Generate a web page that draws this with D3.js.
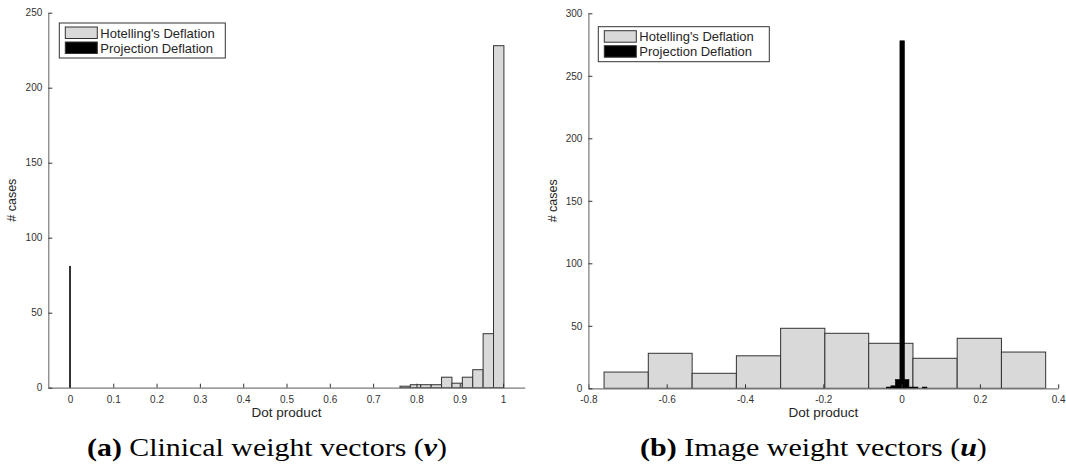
<!DOCTYPE html>
<html lang="en">
<head>
    <meta charset="UTF-8">
    <title>Dot product histograms</title>
    <style>
        body { margin: 0; background: #fff; }
        svg { display: block; }
        .tick text { font-family: "Liberation Sans", Arial, sans-serif; font-size: 10px; fill: #333; }
        .lbl { font-family: "Liberation Sans", Arial, sans-serif; fill: #262626; }
        .cap { font-family: "Liberation Serif", "Times New Roman", serif; fill: #000; }
    </style>
</head>
<body>
    <svg id="chart" width="1066" height="468"></svg>

    <script src="https://d3js.org/d3.v7.min.js"></script>
    <script>
        // panel (a) : clinical weight vectors
        var clinHotEdges  = [0.762, 0.786, 0.810, 0.834, 0.858, 0.882, 0.906, 0.930, 0.954, 0.978, 1.002];
        var clinHotCounts = [1, 2, 2, 2, 7, 3, 7, 12, 36, 228];
        var clinProjEdges  = [-0.001, 0.001];
        var clinProjCounts = [81];
        var clinXTicks = [0, 0.1, 0.2, 0.3, 0.4, 0.5, 0.6, 0.7, 0.8, 0.9, 1];
        var clinYTicks = [0, 50, 100, 150, 200, 250];

        // panel (b) : image weight vectors
        var imgHotEdges  = [-0.760, -0.647, -0.535, -0.422, -0.309, -0.196, -0.084, 0.029, 0.142, 0.255, 0.368];
        var imgHotCounts = [13, 28, 12, 26, 48, 44, 36, 24, 40, 29];
        var imgProjEdges  = [-0.0388, -0.0273, -0.0158, -0.0043, 0.0072, 0.0187, 0.0302, 0.0417, 0.0532, 0.0647, 0.0762];
        var imgProjCounts = [1, 2, 7, 278, 7, 1, 1, 0, 1, 0];
        var imgXTicks = [-0.8, -0.6, -0.4, -0.2, 0, 0.2, 0.4];
        var imgYTicks = [0, 50, 100, 150, 200, 250, 300];

        var legendNames = ["Hotelling's Deflation", "Projection Deflation"];
        var hotFill = "#d9d9d9", projFill = "#000";

        var svg = d3.select("#chart");

        function bins(edges, counts) {
            return counts.map(function(c, i) { return { x0: edges[i], x1: edges[i + 1], n: c }; });
        }

        function panel(p) {
            var x = d3.scaleLinear().domain(p.xDom).range(p.xRange);
            var y = d3.scaleLinear().domain(p.yDom).range(p.yRange);
            var g = svg.append("g");

            // gray histogram first, black on top
            g.selectAll("rect.hot").data(bins(p.hotEdges, p.hotCounts)).enter().append("rect")
                .attr("class", "hot")
                .attr("x", function(d) { return x(d.x0); })
                .attr("width", function(d) { return x(d.x1) - x(d.x0); })
                .attr("y", function(d) { return y(d.n); })
                .attr("height", function(d) { return y(0) - y(d.n); })
                .attr("fill", hotFill).attr("stroke", "#333").attr("stroke-width", 1);

            g.selectAll("rect.proj").data(bins(p.projEdges, p.projCounts).filter(function(d) { return d.n > 0; }))
                .enter().append("rect")
                .attr("class", "proj")
                .attr("x", function(d) { return x(d.x0); })
                .attr("width", function(d) { return Math.max(1, x(d.x1) - x(d.x0)); })
                .attr("y", function(d) { return y(d.n); })
                .attr("height", function(d) { return y(0) - y(d.n); })
                .attr("fill", projFill).attr("stroke", "#000").attr("stroke-width", 0.6);

            // axes, ticks pointing inwards like matlab
            var fmt = function(d) { return String(d); };
            var xa = g.append("g").attr("transform", "translate(0," + y(0) + ")")
                .call(d3.axisBottom(x).tickValues(p.xTicks).tickFormat(fmt).tickSizeInner(-4).tickSizeOuter(0).tickPadding(8));
            var ya = g.append("g").attr("transform", "translate(" + x(p.xDom[0]) + ",0)")
                .call(d3.axisLeft(y).tickValues(p.yTicks).tickFormat(fmt).tickSizeInner(-4).tickSizeOuter(0).tickPadding(6));
            [xa, ya].forEach(function(a) {
                a.select(".domain").attr("stroke", "#7a7a7a").attr("stroke-width", 1.2);
                a.selectAll(".tick line").attr("stroke", "#333");
                a.attr("font-family", null).attr("font-size", null);
            });

            g.append("text").attr("class", "lbl")
                .attr("x", (p.xRange[0] + p.xRange[1]) / 2).attr("y", 417)
                .attr("text-anchor", "middle").attr("font-size", 13.5).text("Dot product");
            g.append("text").attr("class", "lbl")
                .attr("transform", "translate(" + p.yLabelX + "," + ((p.yRange[0] + p.yRange[1]) / 2) + ") rotate(-90)")
                .attr("text-anchor", "middle").attr("font-size", 12.5).text("# cases");

            // legend
            var lg = g.append("g").attr("transform", "translate(" + p.legend[0] + "," + p.legend[1] + ")");
            lg.append("rect").attr("width", p.legendW).attr("height", 35)
                .attr("fill", "#fff").attr("stroke", "#333").attr("stroke-width", 1);
            legendNames.forEach(function(name, i) {
                lg.append("rect").attr("x", 6).attr("y", 4 + i * 15).attr("width", 32).attr("height", 11.5)
                    .attr("fill", i === 0 ? hotFill : projFill).attr("stroke", "#333");
                lg.append("text").attr("class", "lbl").attr("x", 41).attr("y", 14.5 + i * 15)
                    .attr("font-size", 13).attr("fill", "#000").text(name);
            });

            // caption, stretched to the width of the latex caption
            var cap = svg.append("text").attr("class", "cap").attr("font-size", 26).attr("y", 456);
            cap.append("tspan").attr("font-weight", "bold").text("(" + p.letter + ")");
            cap.append("tspan").text(" " + p.caption + " (");
            cap.append("tspan").attr("font-weight", "bold").attr("font-style", "italic").text(p.sym);
            cap.append("tspan").text(")");
            var w = cap.node().getComputedTextLength();
            var s = (p.capRange[1] - p.capRange[0]) / w;
            cap.attr("transform", "translate(" + p.capRange[0] + ",0) scale(" + s + ",1)");
        }

        panel({
            xDom: [-0.05, 1.05], xRange: [48.3, 524.7],
            yDom: [0, 250], yRange: [387.7, 12.7],
            hotEdges: clinHotEdges, hotCounts: clinHotCounts,
            projEdges: clinProjEdges, projCounts: clinProjCounts,
            xTicks: clinXTicks, yTicks: clinYTicks,
            yLabelX: 16, legend: [59.3, 23], legendW: 166,
            letter: "a", caption: "Clinical weight vectors", sym: "v", capRange: [87, 447]
        });

        panel({
            xDom: [-0.8, 0.4], xRange: [588.4, 1058.2],
            yDom: [0, 300], yRange: [388.3, 13.3],
            hotEdges: imgHotEdges, hotCounts: imgHotCounts,
            projEdges: imgProjEdges, projCounts: imgProjCounts,
            xTicks: imgXTicks, yTicks: imgYTicks,
            yLabelX: 557, legend: [598.3, 26.7], legendW: 171,
            letter: "b", caption: "Image weight vectors", sym: "u", capRange: [640, 987]
        });
    </script>
</body>
</html>
